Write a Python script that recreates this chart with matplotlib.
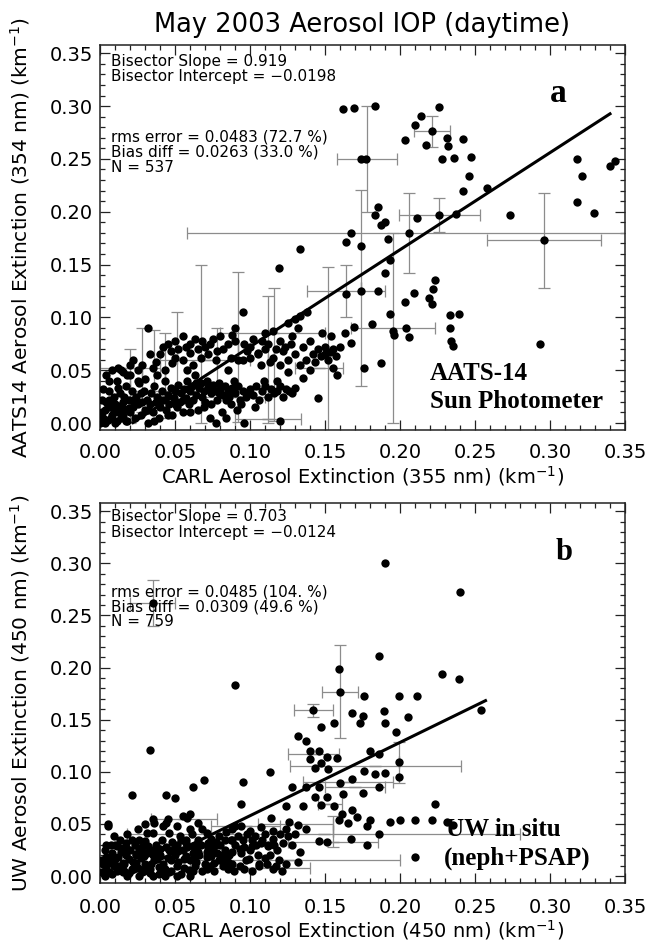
import matplotlib
matplotlib.use("Agg")
import matplotlib.pyplot as plt
from matplotlib.ticker import MultipleLocator
import numpy as np

# ---------------- data: panel a (AATS-14 vs CARL 355 nm) ----------------
a_pts = [
 (0.162,0.297),(0.169,0.298),(0.183,0.300),(0.226,0.299),(0.214,0.291),(0.210,0.282),(0.221,0.276),
 (0.203,0.268),(0.217,0.263),(0.231,0.270),(0.232,0.262),(0.242,0.269),(0.174,0.250),(0.177,0.250),
 (0.228,0.250),(0.236,0.251),(0.247,0.252),(0.318,0.250),(0.343,0.248),(0.340,0.243),(0.246,0.234),
 (0.242,0.220),(0.258,0.222),(0.321,0.234),(0.318,0.209),(0.329,0.199),(0.273,0.197),(0.296,0.173),
 (0.206,0.180),(0.226,0.197),(0.237,0.198),(0.211,0.194),(0.185,0.204),(0.183,0.197),(0.187,0.187),
 (0.190,0.190),(0.192,0.174),(0.167,0.180),(0.164,0.171),(0.174,0.168),(0.133,0.165),(0.119,0.147),
 (0.193,0.154),(0.190,0.142),(0.164,0.122),(0.174,0.125),(0.185,0.125),(0.223,0.135),(0.222,0.127),
 (0.219,0.118),(0.221,0.113),(0.209,0.123),(0.203,0.115),(0.193,0.103),(0.181,0.094),(0.169,0.091),
 (0.163,0.085),(0.167,0.076),(0.195,0.087),(0.196,0.083),(0.204,0.090),(0.206,0.081),(0.233,0.102),
 (0.239,0.103),(0.233,0.090),(0.234,0.078),(0.235,0.073),(0.293,0.075),(0.176,0.052),(0.187,0.057),
 (0.145,0.024),(0.133,0.101),(0.125,0.095),(0.154,0.082),
 # upper band of the cluster
 (0.015,0.048),(0.018,0.045),(0.022,0.060),(0.025,0.050),(0.028,0.055),(0.030,0.042),(0.032,0.090),
 (0.035,0.052),(0.038,0.045),(0.040,0.065),(0.042,0.072),(0.045,0.075),(0.047,0.068),(0.050,0.062),
 (0.050,0.078),(0.052,0.070),(0.055,0.082),(0.055,0.060),(0.057,0.072),(0.060,0.066),(0.060,0.075),
 (0.062,0.055),(0.065,0.070),(0.067,0.062),(0.068,0.078),(0.070,0.072),(0.072,0.065),(0.075,0.080),
 (0.077,0.060),(0.080,0.082),(0.082,0.070),(0.085,0.075),(0.087,0.062),(0.090,0.090),(0.090,0.078),
 (0.092,0.060),(0.095,0.105),(0.096,0.075),(0.100,0.072),(0.100,0.062),(0.102,0.080),(0.105,0.066),
 (0.107,0.055),(0.110,0.070),(0.110,0.085),(0.112,0.075),(0.115,0.062),(0.115,0.087),(0.117,0.070),
 (0.120,0.078),(0.120,0.055),(0.122,0.068),(0.125,0.060),(0.127,0.075),(0.130,0.065),(0.130,0.098),
 (0.132,0.090),(0.135,0.072),(0.137,0.060),(0.140,0.078),(0.140,0.050),(0.142,0.065),(0.145,0.070),
 (0.147,0.063),(0.150,0.065),(0.152,0.060),(0.155,0.070),(0.155,0.052),(0.157,0.063),(0.158,0.045),
 (0.160,0.072),(0.105,0.065),(0.095,0.060),(0.085,0.050),(0.135,0.043),(0.138,0.105),(0.148,0.085),
 (0.125,0.048),(0.118,0.040),(0.020,0.055),(0.033,0.065),(0.037,0.058),(0.043,0.050),(0.048,0.057),
 (0.058,0.050),(0.063,0.080),(0.073,0.075),(0.078,0.068),(0.088,0.083),(0.098,0.068),(0.108,0.078),
 (0.113,0.058),(0.123,0.072),(0.128,0.082),(0.133,0.055),(0.143,0.058),(0.150,0.072),(0.153,0.067),
 # lower band / dense core
 (0.000,0.000),(0.002,0.005),(0.003,0.012),(0.004,0.020),(0.005,0.003),(0.006,0.030),(0.007,0.015),
 (0.008,0.008),(0.009,0.025),(0.010,0.000),(0.010,0.018),(0.011,0.040),(0.012,0.010),(0.013,0.028),
 (0.014,0.005),(0.015,0.020),(0.016,0.013),(0.017,0.035),(0.018,0.002),(0.019,0.022),(0.020,0.010),
 (0.021,0.030),(0.022,0.015),(0.023,0.005),(0.024,0.025),(0.025,0.018),(0.026,0.038),(0.027,0.008),
 (0.028,0.020),(0.029,0.030),(0.030,0.012),(0.031,0.022),(0.032,0.000),(0.033,0.018),(0.034,0.028),
 (0.035,0.010),(0.036,0.035),(0.037,0.020),(0.038,0.025),(0.039,0.005),(0.040,0.015),(0.041,0.030),
 (0.042,0.022),(0.043,0.040),(0.044,0.012),(0.045,0.027),(0.046,0.018),(0.047,0.033),(0.048,0.008),
 (0.049,0.024),(0.050,0.030),(0.051,0.015),(0.052,0.036),(0.053,0.020),(0.054,0.028),(0.055,0.010),
 (0.056,0.032),(0.057,0.024),(0.058,0.040),(0.059,0.018),(0.060,0.030),(0.061,0.035),(0.062,0.022),
 (0.063,0.045),(0.064,0.027),(0.065,0.012),(0.066,0.033),(0.067,0.038),(0.068,0.025),(0.069,0.030),
 (0.070,0.020),(0.071,0.040),(0.072,0.034),(0.073,0.005),(0.074,0.028),(0.075,0.036),(0.076,0.030),
 (0.077,0.000),(0.078,0.022),(0.079,0.038),(0.080,0.032),(0.081,0.010),(0.082,0.027),(0.083,0.035),
 (0.084,0.005),(0.085,0.030),(0.086,0.025),(0.087,0.018),(0.088,0.033),(0.090,0.028),(0.091,0.012),
 (0.092,0.035),(0.093,0.022),(0.095,0.030),(0.096,0.000),(0.097,0.025),(0.100,0.032),(0.102,0.027),
 (0.104,0.035),(0.106,0.022),(0.108,0.030),(0.110,0.035),(0.112,0.025),(0.114,0.032),(0.116,0.028),
 (0.118,0.030),(0.120,0.035),(0.120,0.002),(0.122,0.025),(0.124,0.032),(0.126,0.030),(0.128,0.028),
 (0.130,0.033),(0.001,0.010),(0.003,0.000),(0.005,0.015),(0.007,0.005),(0.009,0.012),(0.011,0.002),
 (0.013,0.016),(0.015,0.008),(0.017,0.002),(0.019,0.014),(0.004,0.045),(0.008,0.050),(0.012,0.052),
 (0.006,0.040),(0.002,0.032),(0.020,0.045),(0.025,0.040),(0.014,0.050),(0.001,0.022),(0.006,0.022),
 (0.012,0.033),(0.016,0.025),(0.022,0.022),(0.027,0.028),(0.032,0.012),(0.036,0.002),(0.040,0.022),
 (0.045,0.008),(0.050,0.018),(0.055,0.022),(0.060,0.010),(0.064,0.038),(0.069,0.015),(0.074,0.018),
 (0.079,0.028),(0.084,0.022),(0.089,0.040),(0.094,0.018),(0.099,0.028),(0.103,0.015),(0.109,0.040),
]
a_x = [p[0] for p in a_pts]
a_y = [p[1] for p in a_pts]

# error bars panel a: x, y, xerr, yerr
a_err = [
 (0.221,0.276,0.012,0.015),(0.178,0.250,0.020,0.050),(0.206,0.180,0.148,0.038),
 (0.296,0.173,0.038,0.045),(0.226,0.197,0.027,0.016),(0.174,0.128,0.000,0.093),
 (0.164,0.125,0.026,0.025),(0.195,0.090,0.028,0.090),(0.152,0.060,0.000,0.088),
 (0.146,0.052,0.016,0.000),(0.067,0.075,0.000,0.075),(0.092,0.072,0.000,0.071),
 (0.112,0.060,0.000,0.060),(0.116,0.065,0.000,0.063),(0.051,0.062,0.000,0.043),
 (0.036,0.050,0.000,0.038),(0.115,0.085,0.035,0.000),(0.020,0.052,0.020,0.000),
 (0.112,0.004,0.022,0.000),(0.028,0.050,0.000,0.040),(0.043,0.045,0.000,0.040),
 (0.020,0.035,0.000,0.035),(0.078,0.060,0.000,0.030),(0.050,0.030,0.030,0.000),
 (0.090,0.025,0.020,0.000),(0.070,0.060,0.030,0.000),
]

# ---------------- data: panel b (UW in situ vs CARL 450 nm) ----------------
b_pts = [
 (0.190,0.300),(0.240,0.272),(0.035,0.262),
 (0.090,0.183),(0.033,0.121),(0.021,0.078),(0.005,0.048),(0.044,0.078),(0.050,0.075),(0.062,0.085),
 (0.069,0.092),(0.095,0.090),(0.094,0.069),(0.159,0.199),(0.160,0.177),(0.186,0.211),(0.142,0.159),
 (0.147,0.143),(0.156,0.147),(0.168,0.156),(0.175,0.154),(0.173,0.147),(0.176,0.173),(0.199,0.173),
 (0.211,0.173),(0.189,0.158),(0.190,0.147),(0.197,0.138),(0.205,0.153),(0.228,0.194),(0.239,0.189),
 (0.254,0.159),(0.132,0.134),(0.137,0.130),(0.140,0.120),(0.146,0.120),(0.151,0.114),(0.140,0.112),
 (0.147,0.108),(0.143,0.104),(0.152,0.103),(0.158,0.113),(0.180,0.120),(0.186,0.117),(0.199,0.109),
 (0.199,0.095),(0.176,0.101),(0.183,0.098),(0.190,0.099),(0.168,0.093),(0.160,0.089),(0.146,0.085),
 (0.137,0.085),(0.128,0.085),(0.113,0.100),(0.186,0.085),(0.175,0.080),(0.162,0.079),(0.151,0.076),
 (0.143,0.076),(0.124,0.067),(0.135,0.067),(0.147,0.068),(0.156,0.067),(0.168,0.063),(0.161,0.060),
 (0.171,0.057),(0.165,0.051),(0.159,0.054),(0.180,0.054),(0.193,0.052),(0.200,0.054),(0.210,0.054),
 (0.223,0.069),(0.210,0.018),(0.178,0.048),(0.186,0.040),(0.178,0.030),(0.167,0.036),(0.151,0.033),
 (0.146,0.034),(0.137,0.045),(0.130,0.040),(0.124,0.045),(0.115,0.043),(0.133,0.023),(0.132,0.014),
 (0.115,0.007),(0.106,0.010),(0.110,0.017),(0.099,0.016),(0.093,0.026),(0.088,0.035),(0.101,0.035),
 (0.107,0.032),(0.112,0.029),(0.114,0.056),(0.126,0.052),(0.132,0.049),(0.107,0.047),(0.100,0.043),
 (0.090,0.048),(0.083,0.035),(0.076,0.029),(0.071,0.023),(0.065,0.035),(0.060,0.045),(0.058,0.056),
 (0.044,0.051),(0.036,0.051),(0.035,0.041),(0.046,0.041),(0.054,0.035),(0.062,0.016),(0.076,0.013),
 (0.085,0.007),(0.096,0.007),(0.051,0.010),(0.043,0.007),(0.038,0.016),(0.026,0.026),(0.021,0.035),
 (0.018,0.026),(0.014,0.023),(0.010,0.016),(0.007,0.019),(0.004,0.007),(0.001,0.004),(0.003,0.000),
 (0.008,0.002),(0.015,0.004),(0.021,0.007),(0.028,0.004),(0.033,0.007),(0.039,0.002),(0.046,0.004),
 (0.054,0.002),(0.062,0.005),(0.071,0.007),(0.029,0.019),(0.032,0.029),(0.040,0.026),(0.049,0.023),
 (0.057,0.019),(0.065,0.023),(0.074,0.019),(0.082,0.016),(0.088,0.023),(0.079,0.038),(0.071,0.041),
 (0.065,0.051),(0.050,0.029),(0.024,0.013),(0.015,0.013),(0.013,0.007),(0.018,0.000),(0.026,0.000),
 (0.035,0.000),(0.043,0.000),(0.051,0.000),(0.060,0.000),(0.006,0.013),(0.011,0.029),(0.017,0.032),
 (0.024,0.021),(0.026,0.035),(0.031,0.041),(0.042,0.048),(0.051,0.048),(0.057,0.032),(0.062,0.029),
 (0.072,0.032),(0.088,0.045),(0.094,0.048),(0.101,0.029),(0.235,0.049),(0.221,0.054),(0.231,0.052),
 (0.002,0.012),(0.004,0.018),(0.006,0.004),(0.008,0.022),(0.009,0.010),(0.011,0.005),(0.012,0.018),
 (0.014,0.027),(0.016,0.012),(0.017,0.020),(0.019,0.003),(0.020,0.025),(0.022,0.014),(0.023,0.030),
 (0.025,0.008),(0.027,0.017),(0.028,0.028),(0.030,0.012),(0.031,0.022),(0.033,0.003),(0.034,0.025),
 (0.036,0.015),(0.037,0.030),(0.039,0.009),(0.040,0.020),(0.042,0.012),(0.044,0.028),(0.045,0.017),
 (0.047,0.005),(0.048,0.033),(0.050,0.020),(0.052,0.014),(0.053,0.038),(0.055,0.025),(0.056,0.008),
 (0.058,0.028),(0.060,0.015),(0.061,0.040),(0.063,0.010),(0.064,0.030),(0.066,0.020),(0.068,0.045),
 (0.070,0.012),(0.072,0.027),(0.074,0.036),(0.076,0.005),(0.078,0.022),(0.080,0.030),(0.082,0.010),
 (0.084,0.042),(0.086,0.020),(0.088,0.012),(0.090,0.030),(0.092,0.038),(0.094,0.022),(0.096,0.028),
 (0.098,0.040),(0.100,0.025),(0.103,0.038),(0.105,0.020),(0.108,0.035),(0.110,0.040),(0.112,0.030),
 (0.115,0.036),(0.118,0.025),(0.120,0.040),(0.122,0.032),(0.125,0.038),(0.010,0.030),(0.013,0.035),
 (0.018,0.040),(0.003,0.025),(0.005,0.050),(0.007,0.030),(0.024,0.020),(0.029,0.005),(0.035,0.020),
 (0.041,0.035),(0.046,0.025),(0.051,0.030),(0.057,0.035),(0.062,0.022),(0.067,0.030),(0.071,0.018),
 (0.075,0.025),(0.079,0.015),(0.083,0.025),(0.087,0.035),(0.093,0.010),(0.097,0.015),(0.101,0.005),
 (0.106,0.012),(0.113,0.020),(0.117,0.010),(0.121,0.005),(0.035,0.055),(0.045,0.055),(0.055,0.058),
 (0.060,0.060),(0.025,0.045),(0.030,0.050),(0.001,0.015),(0.004,0.030),(0.009,0.038),(0.012,0.010),
 (0.016,0.005),(0.019,0.016),(0.023,0.009),(0.027,0.024),(0.030,0.034),(0.034,0.012),(0.038,0.024),
 (0.042,0.003),(0.047,0.015),(0.052,0.024),(0.056,0.016),(0.059,0.006),(0.064,0.014),(0.068,0.005),
 (0.073,0.010),(0.077,0.033),(0.081,0.020),(0.085,0.014),(0.089,0.005),(0.095,0.035),(0.104,0.030),
 (0.111,0.012),(0.116,0.030),(0.119,0.015),(0.124,0.012),(0.128,0.030),
]
b_x = [p[0] for p in b_pts]
b_y = [p[1] for p in b_pts]

b_err = [
 (0.160,0.177,0.012,0.045),(0.142,0.159,0.013,0.006),(0.142,0.117,0.017,0.000),
 (0.1835,0.106,0.057,0.000),(0.199,0.109,0.000,0.020),(0.165,0.090,0.030,0.000),
 (0.170,0.085,0.020,0.000),(0.153,0.069,0.008,0.000),(0.155,0.043,0.000,0.015),
 (0.149,0.040,0.131,0.000),(0.155,0.033,0.030,0.000),(0.056,0.055,0.022,0.000),
 (0.097,0.048,0.023,0.000),(0.125,0.015,0.075,0.000),(0.100,0.008,0.040,0.000),
 (0.035,0.262,0.015,0.022),(0.130,0.050,0.025,0.000),
]

# regression (bisector) lines
a_slope, a_icpt, a_xrange = 0.919, -0.0198, (0.022, 0.340)
b_slope, b_icpt, b_xrange = 0.703, -0.0124, (0.018, 0.257)

ticks = [0.00, 0.05, 0.10, 0.15, 0.20, 0.25, 0.30, 0.35]
tick_labels = ["0.00", "0.05", "0.10", "0.15", "0.20", "0.25", "0.30", "0.35"]

a_stats = ["Bisector Slope = 0.919", "Bisector Intercept = \u22120.0198",
           "rms error = 0.0483 (72.7 %)", "Bias diff = 0.0263 (33.0 %)", "N = 537"]
b_stats = ["Bisector Slope = 0.703", "Bisector Intercept = \u22120.0124",
           "rms error = 0.0485 (104. %)", "Bias diff = 0.0309 (49.6 %)", "N = 759"]

# ---------------- figure ----------------
plt.rcParams['font.family'] = ['DejaVu Sans']
W, H = 646, 944
fig = plt.figure(figsize=(W / 100, H / 100), dpi=100)

def px_axes(top, bottom, left=100, right=625):
    return fig.add_axes([left / W, 1 - bottom / H, (right - left) / W, (bottom - top) / H])

axa = px_axes(45, 430)
axb = px_axes(503, 883)

serif = ['Liberation Serif', 'DejaVu Serif']

def style(ax, xlabel, ylabel, xpad, xlabelpad):
    ax.set_xlim(0, 0.35)
    ax.set_ylim(-0.0066, 0.3578)
    ax.set_xticks(ticks)
    ax.set_xticklabels(tick_labels)
    ax.set_yticks(ticks)
    ax.set_yticklabels(tick_labels)
    ax.xaxis.set_minor_locator(MultipleLocator(0.01))
    ax.yaxis.set_minor_locator(MultipleLocator(0.01))
    ax.tick_params(which='both', direction='in', top=True, right=True, width=0.9, color='#222222')
    ax.tick_params(which='major', length=7, labelsize=14)
    ax.tick_params(which='minor', length=3.5)
    ax.tick_params(axis='x', which='major', pad=xpad)
    ax.tick_params(axis='y', which='major', pad=5)
    for s in ax.spines.values():
        s.set_linewidth(1.1)
        s.set_color('#222222')
    ax.set_xlabel(xlabel, fontsize=14, labelpad=xlabelpad)
    ax.set_ylabel(ylabel, fontsize=14.5)
    ax.yaxis.set_label_coords(-0.13, 0.5)

style(axa, "CARL Aerosol Extinction (355 nm) (km$^{-1}$)",
      "AATS14 Aerosol Extinction (354 nm) (km$^{-1}$)", 9, 2)
style(axb, "CARL Aerosol Extinction (450 nm) (km$^{-1}$)",
      "UW Aerosol Extinction (450 nm) (km$^{-1}$)", 11, 0.5)

def draw_panel(ax, xs, ys, errs, slope, icpt, xr, stats, rows, box_top, box_bot):
    ex = [e[0] for e in errs]
    ey = [e[1] for e in errs]
    ax.errorbar(ex, ey, xerr=[e[2] for e in errs], yerr=[e[3] for e in errs], fmt='none',
                ecolor='#8c8c8c', elinewidth=0.9, capsize=4.5, capthick=0.9, zorder=2)
    ax.plot(xs, ys, 'o', color='black', markersize=6.0, markeredgewidth=0, zorder=3)
    lx = np.array(xr)
    ax.plot(lx, slope * lx + icpt, color='black', lw=2.2, zorder=4)
    for txt, ry in zip(stats, rows):
        fy = (box_bot - ry) / (box_bot - box_top)
        ax.text(11 / 525, fy, txt, transform=ax.transAxes, fontsize=11,
                ha='left', va='center', zorder=5)

draw_panel(axa, a_x, a_y, a_err, a_slope, a_icpt, a_xrange, a_stats,
           [62, 77, 137, 152, 167], 45, 430)
draw_panel(axb, b_x, b_y, b_err, b_slope, b_icpt, b_xrange, b_stats,
           [517, 532, 592, 607, 622], 503, 883)

def ptext(ax, px, py, txt, box_top, box_bot, size, ha='left'):
    fx = (px - 100) / 525
    fy = (box_bot - py) / (box_bot - box_top)
    ax.text(fx, fy, txt, transform=ax.transAxes, fontsize=size, fontweight='bold',
            family=serif, ha=ha, va='center', zorder=6)

ptext(axa, 558, 93, "a", 45, 430, 24, ha='center')
ptext(axb, 564, 552, "b", 503, 883, 22, ha='center')
ptext(axa, 430, 373, "AATS-14", 45, 430, 18)
ptext(axa, 430, 402, "Sun Photometer", 45, 430, 18)
ptext(axb, 446, 830, "UW in situ", 503, 883, 18)
ptext(axb, 444, 858, "(neph+PSAP)", 503, 883, 18)

fig.text(362 / W, 1 - 25 / H, "May 2003 Aerosol IOP (daytime)", fontsize=18.5,
         ha='center', va='center')

fig.savefig("out.png", dpi=100)
